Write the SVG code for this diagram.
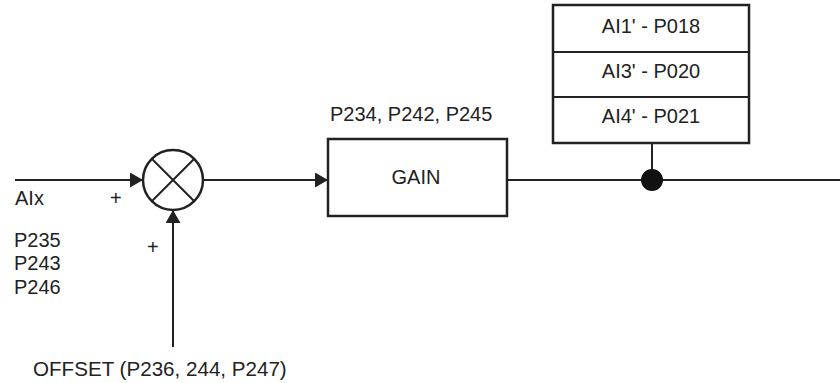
<svg xmlns="http://www.w3.org/2000/svg" width="840" height="383" viewBox="0 0 840 383">
<style>
text{font-family:"Liberation Sans",Arial,sans-serif;font-size:20px;fill:#222}
.ln{stroke:#222;stroke-width:2;fill:none}
.bx{stroke:#222;stroke-width:2.5;fill:#fff}
.m{text-anchor:middle}
</style>
<defs>
<marker id="ah" viewBox="0 0 13 15" refX="13" refY="7.5" markerWidth="13" markerHeight="15" markerUnits="userSpaceOnUse" orient="auto">
<path d="M0,0 L13,7.5 L0,15 Z" fill="#222"/>
</marker>
</defs>
<g id="connectors">
<line class="ln" x1="15" y1="180" x2="143" y2="180" marker-end="url(#ah)"/>
<line class="ln" x1="173" y1="347" x2="173" y2="210" marker-end="url(#ah)"/>
<line class="ln" x1="203" y1="180" x2="328" y2="180" marker-end="url(#ah)"/>
<line class="ln" x1="507" y1="180" x2="840" y2="180"/>
<line class="ln" x1="652" y1="143" x2="652" y2="180"/>
<circle cx="652" cy="180" r="11" fill="#111"/>
</g>
<g id="summer">
<circle cx="173" cy="180" r="30" fill="#fff" stroke="#222" stroke-width="2.5"/>
<line class="ln" x1="152" y1="159" x2="194" y2="201"/>
<line class="ln" x1="194" y1="159" x2="152" y2="201"/>
</g>
<g id="gain">
<rect class="bx" x="328" y="139" width="179" height="77"/>
<text class="m" x="416" y="184">GAIN</text>
<text x="330" y="121">P234, P242, P245</text>
</g>
<g id="table">
<rect class="bx" x="553" y="5" width="196" height="138"/>
<line class="ln" x1="553" y1="52" x2="749" y2="52"/>
<line class="ln" x1="553" y1="97" x2="749" y2="97"/>
<text class="m" x="651" y="33">AI1' - P018</text>
<text class="m" x="651" y="78">AI3' - P020</text>
<text class="m" x="651" y="123">AI4' - P021</text>
</g>
<g id="labels">
<text x="15" y="205">AIx</text>
<text x="110" y="205">+</text>
<text x="147" y="254">+</text>
<text x="14" y="247">P235</text>
<text x="14" y="270">P243</text>
<text x="14" y="294">P246</text>
<text x="33" y="376" style="font-size:20.6px">OFFSET (P236, 244, P247)</text>
</g>
</svg>
